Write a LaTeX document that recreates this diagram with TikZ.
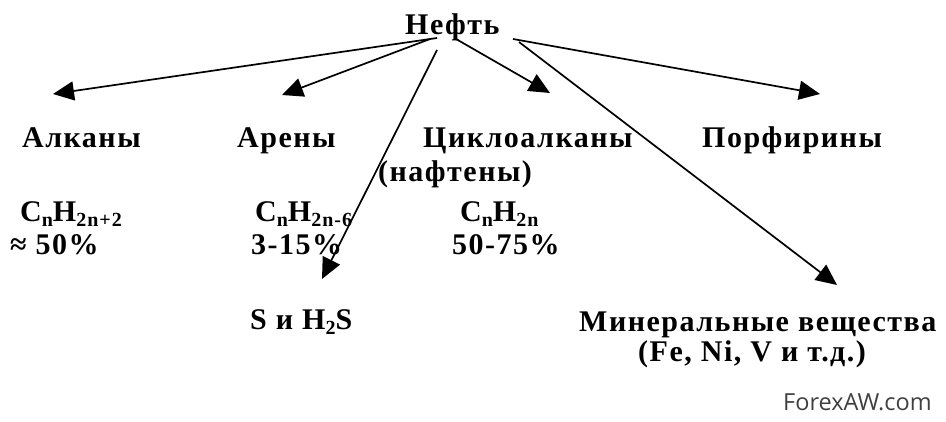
\documentclass[tikz,border=0pt]{standalone}
\usepackage{fontspec}
\setmainfont{Liberation Serif}[LetterSpace=5]
\newfontfamily\wmfont{Open Sans}
\usetikzlibrary{arrows.meta}
\newcommand{\lowtx}[1]{\raisebox{-5pt}{\fontsize{20}{20}\selectfont\bfseries #1}}

\begin{document}
\begin{tikzpicture}[x=1pt,y=-1pt,>={Triangle[length=21pt,width=19pt]},
  lbl/.style={anchor=base west,inner sep=0pt,font=\fontsize{30}{32}\selectfont\bfseries},
  link/.style={->,line width=1.7pt}]
  \useasboundingbox (0,0) rectangle (946,422);
  % top
  \node[lbl] (oil) at (405,35) {Нефть};
  % classes
  \node[lbl] (alk) at (22,148) {Алканы};
  \node[lbl] (are) at (237,148) {Арены};
  \node[lbl] (cyc) at (423,148) {Циклоалканы};
  \node[lbl] (naf) at (378,182) {(нафтены)};
  \node[lbl] (por) at (702,148) {Порфирины};
  % formulas and shares
  \node[lbl] (alkF) at (20,222) {C\lowtx{n}H\lowtx{2n+2}};
  \node[lbl] (alkP) at (10,255) {≈ 50\%};
  \node[lbl] (areF) at (255,222) {C\lowtx{n}H\lowtx{2n-6}};
  \node[lbl] (areP) at (251,255) {3-15\%};
  \node[lbl] (cycF) at (460,222) {C\lowtx{n}H\lowtx{2n}};
  \node[lbl] (cycP) at (452,255) {50-75\%};
  % lower row
  \node[lbl] (sul) at (250,330) {S и H\lowtx{2}S};
  \node[lbl] (min) at (579,332) {Минеральные вещества};
  \node[lbl] (minX) at (638,361) {(Fe, Ni, V и т.д.)};
  \node[anchor=base west,inner sep=0pt,text=black!75,font=\wmfont\fontsize{23.5}{26}\selectfont] (wm) at (783,410) {ForexAW.com};
  % arrow ends
  \coordinate (oilA) at (437,38);
  \coordinate (oilB) at (430,39);
  \coordinate (oilC) at (437,50);
  \coordinate (oilD) at (456,39);
  \coordinate (oilE) at (513,39);
  \coordinate (oilF) at (519,42);
  \coordinate (alkT) at (53,94);
  \coordinate (areT) at (282,95);
  \coordinate (sulT) at (322,279);
  \coordinate (cycT) at (550,93);
  \coordinate (porT) at (820,94);
  \coordinate (minT) at (837,285);
  \draw[link] (oilA) -- (alkT);
  \draw[link] (oilB) -- (areT);
  \draw[link] (oilC) -- (sulT);
  \draw[link] (oilD) -- (cycT);
  \draw[link] (oilE) -- (porT);
  \draw[link] (oilF) -- (minT);
\end{tikzpicture}
\end{document}
